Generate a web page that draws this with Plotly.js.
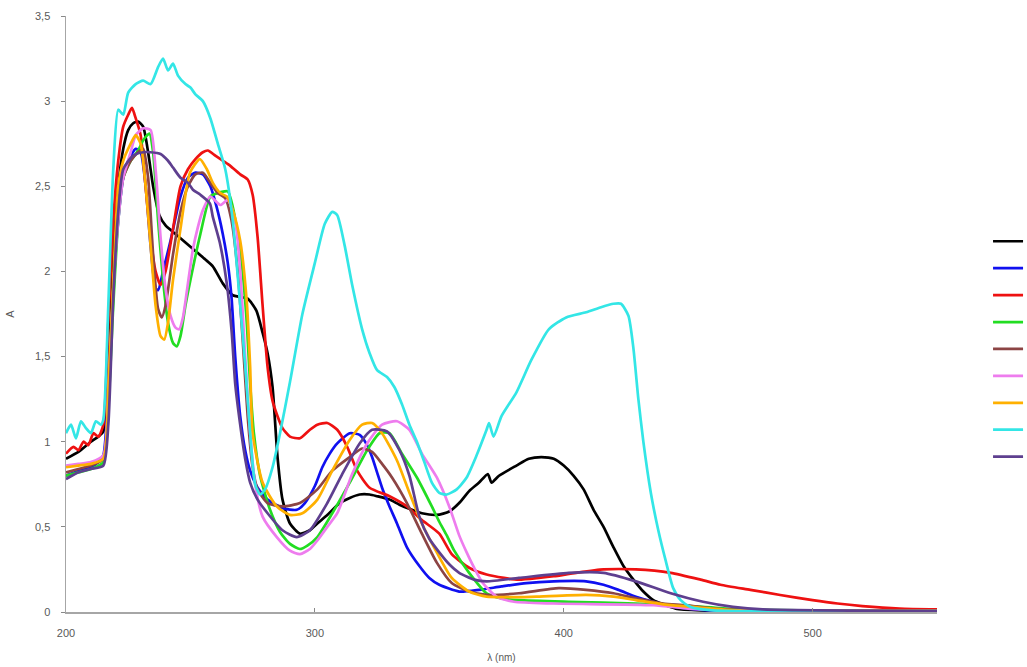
<!DOCTYPE html>
<html>
<head>
<meta charset="utf-8">
<script src="https://cdn.plot.ly/plotly-3.0.1.min.js"></script>
<style>
html,body{margin:0;padding:0;background:#fff;}
#chart{width:1027px;height:667px;}
</style>
</head>
<body>
<div id="chart"></div>
<script>
// ---- data ----
const wl_black = [200,205,210,213,215,217,219,221,223,225,227,229,231,233,235,237.5,240,244,248,252,256,259,263,267,270,273,276.5,279,281,283,285,287,290,294,298,301,305,310,314,318,322,325,330,334,339,343,349,354,358,362,366,369.5,371,374,381,386,391,396,400,404,408,412,416,420,424,428,432,436,440,445,455,480,550];
const A_black  = [0.90,0.94,1.00,1.03,1.06,1.50,2.10,2.50,2.72,2.83,2.87,2.88,2.85,2.70,2.50,2.33,2.27,2.22,2.17,2.12,2.07,2.03,1.93,1.86,1.85,1.84,1.77,1.64,1.52,1.32,0.91,0.66,0.52,0.46,0.48,0.52,0.57,0.64,0.67,0.69,0.69,0.68,0.66,0.63,0.60,0.58,0.57,0.59,0.64,0.71,0.76,0.81,0.76,0.80,0.86,0.90,0.91,0.90,0.86,0.80,0.72,0.60,0.50,0.38,0.27,0.19,0.12,0.07,0.045,0.02,0.01,0.006,0.005];

const wl_blue = [200,205,210,213,215,217,219,221,223,225,228,230,232,234,236,237,239,242,246,249,252,255,258,260.5,263,265,266.5,268,270,272,274,277,281,287,292.7,296,300,303,306,309,314,318,321,323,325,327,330,333,337,342,346,350,358,366,375,385,396,409,416,422,429,436,443,450,460,480,550];
const A_blue  = [0.80,0.83,0.85,0.88,0.92,1.30,1.90,2.30,2.55,2.65,2.72,2.70,2.50,2.15,1.90,1.89,2.00,2.18,2.44,2.55,2.58,2.57,2.50,2.38,2.22,2.05,1.85,1.50,1.15,0.95,0.83,0.73,0.66,0.61,0.60,0.64,0.74,0.85,0.93,0.99,1.05,1.04,0.98,0.91,0.82,0.73,0.62,0.52,0.38,0.27,0.20,0.16,0.12,0.13,0.15,0.17,0.18,0.18,0.16,0.13,0.09,0.06,0.035,0.02,0.01,0.006,0.005];

const wl_red = [200,203,205,207,209,211,213,215,217,219,221,223,225,226.5,228,230,232,234,236,238,240,243,246,249,252,255,257,260,263,266,270,273,275,277,279,281,283,285,287,290,294,298,301,305,309,313,317,322,330,337,343,350,355,362,369,376,382,390,396,405,416,429,443,455,463,475,487,500,510,520,535,550];
const A_red  = [0.93,0.97,0.95,1.00,0.98,1.05,1.03,1.10,1.70,2.30,2.65,2.85,2.92,2.96,2.90,2.80,2.50,2.20,2.00,1.92,2.00,2.25,2.50,2.60,2.66,2.70,2.71,2.68,2.65,2.62,2.57,2.54,2.45,2.20,1.80,1.44,1.24,1.15,1.08,1.03,1.02,1.07,1.10,1.11,1.07,0.97,0.83,0.73,0.68,0.62,0.54,0.46,0.34,0.26,0.22,0.20,0.19,0.20,0.21,0.23,0.25,0.25,0.23,0.19,0.16,0.13,0.10,0.07,0.05,0.035,0.02,0.015];

const wl_green = [200,205,210,215,217,219,221,223,226,229,231,233.5,235,237,239,241,243,244.5,246,248,250,254,258,261,265,267,270,272.5,274,275.5,278,282,286,290,294,297,301,307,314,321,326,330,335,341,347,350,353,356,362,369,375,382,402,429,456,470,550];
const A_green  = [0.80,0.82,0.84,0.88,1.20,1.80,2.30,2.55,2.65,2.71,2.77,2.81,2.70,2.30,1.95,1.70,1.58,1.56,1.62,1.80,1.95,2.22,2.44,2.46,2.47,2.38,2.13,1.73,1.34,1.05,0.80,0.60,0.47,0.40,0.37,0.39,0.44,0.58,0.76,0.95,1.05,1.05,0.93,0.79,0.62,0.53,0.45,0.36,0.23,0.11,0.08,0.07,0.06,0.05,0.03,0.015,0.005];

const wl_brown = [200,205,210,215,217,219,221,223,226,229,231,233,235,237,238.5,240,243,246,249,252,255,258,261,264,266.5,269,271,273,275,277,281,287,294,301,307,314,319,323,327,331,337,343,349,355,362,369,382,398,409,420,429,440,449,460,475,550];
const A_brown  = [0.82,0.84,0.86,0.90,1.30,1.90,2.35,2.55,2.65,2.70,2.72,2.55,2.10,1.78,1.73,1.80,2.10,2.35,2.50,2.57,2.58,2.52,2.46,2.43,2.30,2.00,1.60,1.15,0.85,0.72,0.64,0.62,0.64,0.72,0.83,0.91,0.96,0.94,0.87,0.79,0.64,0.46,0.29,0.17,0.12,0.10,0.11,0.14,0.13,0.11,0.08,0.05,0.04,0.02,0.01,0.005];

const wl_violet = [200,205,210,215,217,219,221,223,226,228,231,234,236,238,240,242,244,245.5,247,249,251,253,255,258,262,265,268,270,272,274,276,279,284.7,290,294,298,301,305,309,315,321,327,333,338,343,349,354,358,361,364,367.5,373,380,396,436,450,465,550];
const A_violet  = [0.86,0.87,0.88,0.92,1.30,1.90,2.30,2.55,2.70,2.80,2.84,2.83,2.60,2.20,1.90,1.74,1.67,1.66,1.73,1.93,2.13,2.26,2.36,2.44,2.39,2.42,2.30,2.00,1.50,1.05,0.75,0.56,0.44,0.36,0.34,0.37,0.42,0.50,0.58,0.81,0.99,1.10,1.12,1.07,0.93,0.79,0.62,0.45,0.35,0.26,0.17,0.09,0.06,0.05,0.04,0.02,0.01,0.005];

const wl_orange = [200,205,210,215,217,219,221,223,226,228,230,232,234,236,238,239.5,241,243,246,249.8,253.8,256.6,259,262,264.6,267,270,272.6,274,275,279,284.7,290,295,301,307,314,319,323,327,333,338,343,349,355,362,369,389,409,420,429,440,456,470,550];
const A_orange  = [0.85,0.86,0.87,0.90,1.30,1.95,2.50,2.65,2.75,2.80,2.75,2.50,2.15,1.80,1.62,1.60,1.70,1.95,2.25,2.58,2.66,2.60,2.52,2.46,2.44,2.36,2.18,1.83,1.44,1.05,0.76,0.62,0.57,0.58,0.66,0.83,1.01,1.10,1.11,1.05,0.89,0.70,0.52,0.35,0.20,0.12,0.09,0.09,0.10,0.09,0.07,0.045,0.025,0.01,0.005];

const wl_cyan = [200,202,204,206,208,210,212,214,215,217,219,221,223,225,228,231,234,237,239,241,243,245,248,250,252,255,258,261,264,267,270,272,274,276,278,280,283,286,290,295,300,304,307,309,312,315,319,322,325,329,332,335,338,341,344,347,350,353,357,361,365,369,370,371.8,375,381,387,394,401,409,415,420,423,426,428,430,432,435,438,441,444,447,451,460,550];
const A_cyan  = [1.05,1.10,1.02,1.12,1.08,1.05,1.12,1.10,1.13,1.80,2.60,2.95,2.92,3.05,3.10,3.12,3.10,3.20,3.25,3.18,3.22,3.15,3.10,3.08,3.04,3.00,2.90,2.75,2.60,2.30,1.80,1.45,1.05,0.75,0.69,0.72,0.85,1.05,1.35,1.75,2.05,2.28,2.35,2.33,2.15,1.92,1.66,1.52,1.42,1.38,1.32,1.22,1.10,1.00,0.88,0.76,0.70,0.69,0.72,0.79,0.92,1.07,1.11,1.03,1.15,1.29,1.48,1.66,1.73,1.76,1.79,1.81,1.81,1.74,1.55,1.25,1.00,0.70,0.48,0.30,0.14,0.07,0.03,0.01,0.005];

const wl_purple = [200,205,210,215,217,219,221,223,227,231,234,238,241,243,246,249,251,254,257.8,259,261.8,264.6,266.6,268,270,272,274,277,281,287,292.7,298,305,311,318,323,329,334,338,342,346,350,354,358,364,369,382,402,416,429,443,456,468,480,550];
const A_purple  = [0.78,0.82,0.84,0.86,1.10,1.85,2.35,2.60,2.68,2.70,2.70,2.69,2.65,2.61,2.55,2.52,2.48,2.45,2.40,2.32,2.17,1.93,1.64,1.34,1.10,0.90,0.76,0.66,0.58,0.48,0.44,0.48,0.64,0.81,0.99,1.07,1.06,0.95,0.80,0.56,0.43,0.35,0.28,0.23,0.19,0.18,0.20,0.23,0.23,0.18,0.11,0.06,0.03,0.015,0.005];

const seriesX = [wl_black, wl_blue, wl_red, wl_green, wl_brown, wl_violet, wl_orange, wl_cyan, wl_purple];
const seriesY = [A_black, A_blue, A_red, A_green, A_brown, A_violet, A_orange, A_cyan, A_purple];
const seriesColors = ['#000000','#1010f0','#ee1111','#22dd22','#8c4444','#ee7cee','#ffb000','#33e6e6','#5e3f8f'];

const xTickVals = [200,300,400,500];
const yTickVals = [0,0.5,1,1.5,2,2.5,3,3.5];

const traces = seriesX.map((x,i)=>({
  x: x, y: seriesY[i], type:'scatter', mode:'lines', name:' ',
  line:{color:seriesColors[i], width:2.7, shape:'spline', smoothing:0.6},
  hoverinfo:'skip'
}));

const layout = {
  width:1027, height:667,
  margin:{l:66, r:90, t:16, b:55, autoexpand:false},
  paper_bgcolor:'#fff', plot_bgcolor:'#fff',
  separators:',.',
  font:{family:'Liberation Sans, Arial, sans-serif', size:11, color:'#595959'},
  showlegend:true,
  legend:{x:1.0586, xanchor:'left', y:0.653, yanchor:'top', font:{size:18.4}, bgcolor:'rgba(0,0,0,0)', borderwidth:0, tracegroupgap:0},
  xaxis:{range:[200,550], tickvals:xTickVals, ticks:'inside', ticklen:4, tickcolor:'#888',
    ticklabelstandoff:10,
    showline:true, linecolor:'#a6a6a6', linewidth:1.5, showgrid:false, zeroline:false,
    title:{text:'λ (nm)', font:{size:10, color:'#595959'}, standoff:16}, tickfont:{size:11}},
  yaxis:{range:[0,3.5], tickvals:yTickVals, ticks:'outside', ticklen:4, tickcolor:'#888',
    ticklabelstandoff:8,
    showline:true, linecolor:'#a6a6a6', linewidth:1.5, showgrid:false, zeroline:false,
    title:{text:'A', font:{size:11, color:'#595959'}, standoff:18}, tickfont:{size:11}}
};

Plotly.newPlot('chart', traces, layout, {staticPlot:true, displayModeBar:false});
</script>
</body>
</html>
